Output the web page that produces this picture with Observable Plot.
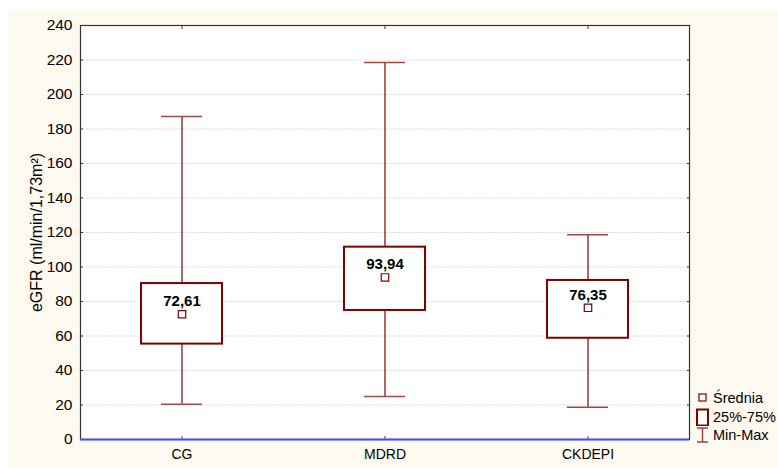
<!DOCTYPE html>
<html>
<head>
<meta charset="utf-8">
<script src="https://cdn.jsdelivr.net/npm/d3@7"></script>
<script src="https://cdn.jsdelivr.net/npm/@observablehq/plot@0.6"></script>
<style>
  html, body { margin: 0; padding: 0; background: #ffffff; }
  #wrap { position: relative; width: 778px; height: 468px; overflow: hidden; }
  #chart { position: absolute; left: 9px; top: 10px; }
  #chart svg { background: #fffaf0; display: block; font-family: Arial, "Liberation Sans", sans-serif; }
  #chart svg g[aria-label="y-axis tick label"] { font-size: 15.5px; }
  #chart svg g[aria-label="x-axis tick label"] { font-size: 14px; }
  #chart svg g[aria-label="y-axis label"] { font-size: 16px; }
  #chart svg g.mean-label { font-size: 15px; font-weight: bold; }
  #legend { position: absolute; left: 695px; top: 389px; font: 14.5px Arial, "Liberation Sans", sans-serif; color: #000; }
  #legend .row { display: flex; align-items: center; height: 18.5px; }
  #legend svg { width: 16px; height: 18px; margin-right: 2px; }
</style>
</head>
<body>
<div id="wrap">
  <div id="chart"></div>
  <div id="legend">
    <div class="row"><svg viewBox="0 0 16 18"><rect x="4" y="5" width="7" height="7" fill="#fff" stroke="#800000" stroke-width="1.2"/></svg>Średnia</div>
    <div class="row"><svg viewBox="0 0 16 18"><rect x="2" y="1.5" width="11" height="16" fill="#fff" stroke="#800000" stroke-width="2"/></svg>25%-75%</div>
    <div class="row"><svg viewBox="0 0 16 18"><line x1="7.5" y1="2" x2="7.5" y2="16" stroke="#a04040" stroke-width="1.5"/><line x1="2" y1="2" x2="13" y2="2" stroke="#a04040" stroke-width="1.5"/><line x1="2" y1="16" x2="13" y2="16" stroke="#a04040" stroke-width="1.5"/></svg>Min-Max</div>
  </div>
</div>
<script>
// eGFR estimates by formula: min, quartiles, max and mean
const methods = ["CG", "MDRD", "CKDEPI"];
const minVals = [20.4, 24.9, 18.7];
const q1Vals = [55.3, 74.8, 58.7];
const q3Vals = [90.4, 111.5, 92.2];
const maxVals = [187.3, 218.6, 118.7];
const meanVals = [72.61, 93.94, 76.35];
const yTicks = [0, 20, 40, 60, 80, 100, 120, 140, 160, 180, 200, 220, 240];

const rows = methods.map((m, i) => ({
  method: m, min: minVals[i], q1: q1Vals[i], q3: q3Vals[i], max: maxVals[i], mean: meanVals[i]
}));

const maroon = "#800000";

const chart = Plot.plot({
  width: 769,
  height: 458,
  marginLeft: 71,
  marginRight: 89,
  marginTop: 15,
  marginBottom: 29,
  style: { color: "#000", background: "#fffaf0" },
  x: { type: "band", domain: methods, padding: 0, label: null },
  y: { domain: [0, 240], ticks: yTicks, label: "eGFR (ml/min/1,73m²)" },
  marks: [
    Plot.frame({ fill: "white", stroke: null }),
    Plot.gridY(yTicks, { stroke: "#dedede", strokeOpacity: 1, strokeDasharray: "2,1" }),
    Plot.frame({ stroke: "#333", strokeWidth: 1.2 }),
    // axes
    Plot.axisY(yTicks, { anchor: "left", tickSize: 0, tickPadding: 8,
      label: "eGFR (ml/min/1,73m²)", labelAnchor: "center", labelArrow: "none", labelOffset: 50 }),
    Plot.axisY(yTicks, { anchor: "left", tickSize: -3, tickFormat: () => "", label: null, stroke: "#333" }),
    Plot.axisY(yTicks, { anchor: "right", tickSize: -3, tickFormat: () => "", label: null, stroke: "#333" }),
    Plot.axisX({ anchor: "top", tickSize: -3, tickFormat: () => "", label: null, stroke: "#333" }),
    Plot.axisX({ anchor: "bottom", tickSize: -3, tickPadding: 13, label: null, stroke: "#3333ff" }),
    Plot.ruleY([0], { stroke: "#4a4aff", strokeWidth: 2 }),
    // whiskers
    Plot.ruleX(rows, { x: "method", y1: "min", y2: "max", stroke: maroon, strokeWidth: 1.2 }),
    Plot.tickY(rows, { x: "method", y: "min", stroke: "#a04848", strokeWidth: 1.5, insetLeft: 81, insetRight: 81 }),
    Plot.tickY(rows, { x: "method", y: "max", stroke: "#a04848", strokeWidth: 1.5, insetLeft: 81, insetRight: 81 }),
    // interquartile boxes
    Plot.rectY(rows, { x: "method", y1: "q1", y2: "q3", fill: "white", stroke: maroon, strokeWidth: 2, insetLeft: 61, insetRight: 61 }),
    // means
    Plot.dot(rows, { x: "method", y: "mean", symbol: "square", r: 4.2, fill: "white", stroke: maroon, strokeWidth: 1.2 }),
    Plot.text(rows, { x: "method", y: "mean", text: d => d.mean.toFixed(2).replace(".", ","),
      dy: -13, fill: "#000" })
  ]
});

// tag the mean-label group so its font can be styled
chart.querySelectorAll('g[aria-label="text"]').forEach(g => g.classList.add("mean-label"));
document.getElementById("chart").appendChild(chart);
</script>
</body>
</html>
